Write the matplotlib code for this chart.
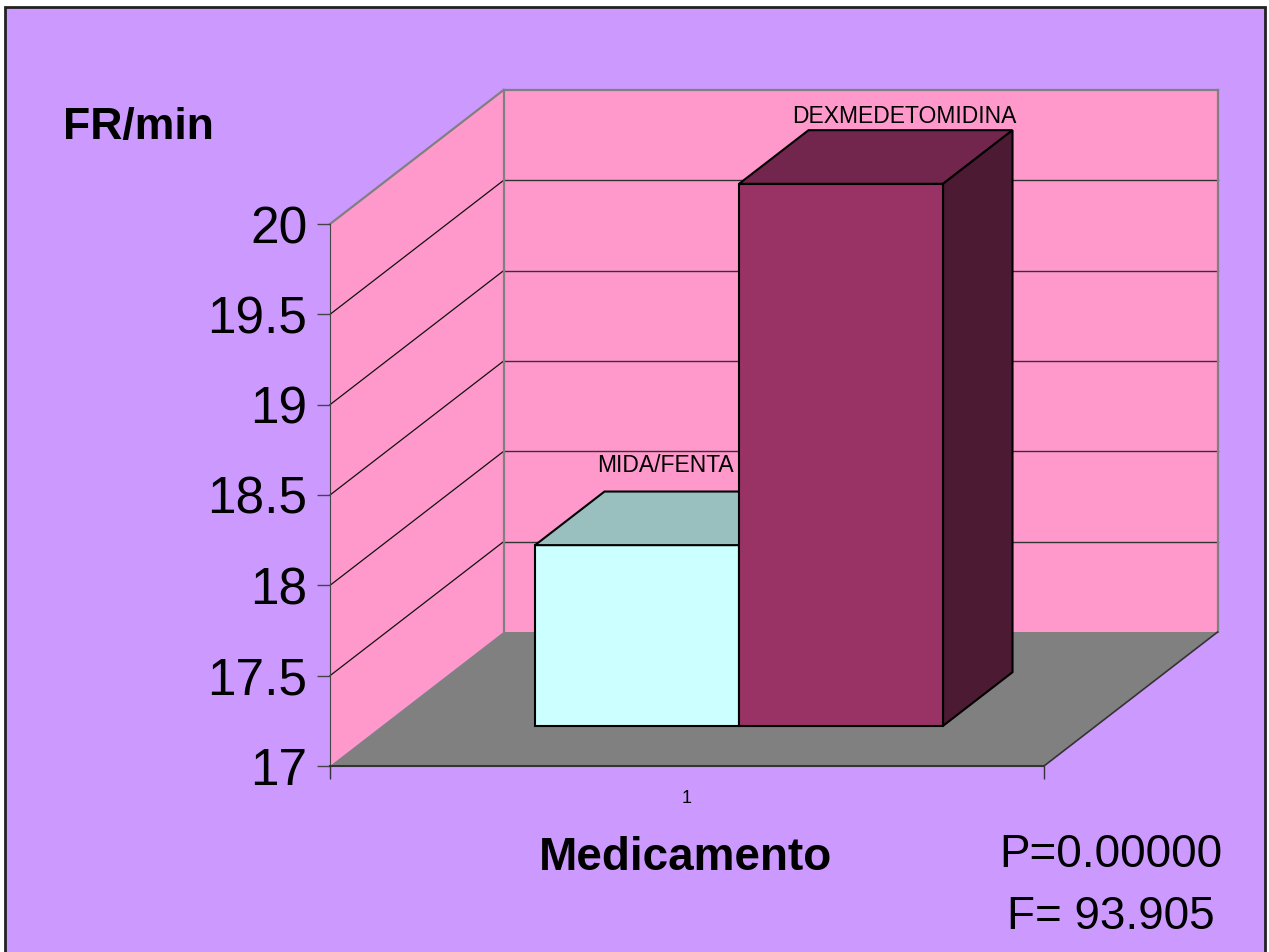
import numpy as np
import matplotlib
matplotlib.use('Agg')
import matplotlib.pyplot as plt
from matplotlib.patches import Polygon, Rectangle
from matplotlib.transforms import IdentityTransform

plt.rcParams['font.family'] = ['Liberation Sans', 'DejaVu Sans']

## data
groups   = ['MIDA/FENTA', 'DEXMEDETOMIDINA']
fr_mean  = [18.0, 20.0]
yticks   = [17, 17.5, 18, 18.5, 19, 19.5, 20]
cat_lab  = ['1']
stats_p  = 'P=0.00000'
stats_f  = 'F= 93.905'

## colours (front, top, side)
bar_cols = [('#CCFFFF', '#99BFBF', '#669999'),
            ('#993366', '#73264D', '#4D1A33')]
bg_col    = '#CC99FF'
wall_col  = '#FF99CC'
floor_col = '#808080'

W, H = 1269, 952
fig = plt.figure(figsize=(W/100, H/100), dpi=100, facecolor='white')

# chart area background with border
fig.patches.append(Rectangle((5/W, -0.01), 1260/W, 1 - 7/H + 0.01,
                             transform=fig.transFigure, facecolor=bg_col,
                             edgecolor='#222222', linewidth=2, zorder=0))

# front plane of the 3d box
ax = fig.add_axes([330/W, 1 - 766/H, 714/W, (766 - 224)/H])
ax.set_zorder(20)
ax.set_xlim(0, 1)
ax.set_ylim(17, 20)
ax.patch.set_visible(False)
for s in ['top', 'right']:
    ax.spines[s].set_visible(False)
ax.spines['left'].set_color('#444444')
ax.spines['bottom'].set_color('#333333')
ax.spines['bottom'].set_linewidth(1.5)

DX, DY = 173.6, 134.0   # depth offset in pixels


def proj(x, v, d):
    px, py = ax.transData.transform((x, v))
    return (px + DX*d, py + DY*d)


def face(pts, fc, ec='none', lw=0, z=1):
    p = Polygon([proj(*q) for q in pts], closed=True, facecolor=fc,
                edgecolor=ec, linewidth=lw, transform=IdentityTransform(),
                zorder=z, clip_on=False, joinstyle='miter')
    fig.patches.append(p)


def line(a, b, col, lw, z=2):
    pa, pb = proj(*a), proj(*b)
    fig.lines.append(plt.Line2D([pa[0], pb[0]], [pa[1], pb[1]], color=col,
                                linewidth=lw, transform=IdentityTransform(),
                                zorder=z))


ymin, ymax = yticks[0], yticks[-1]
# walls and floor
face([(0, ymin, 0), (0, ymax, 0), (0, ymax, 1), (0, ymin, 1)], wall_col)
face([(0, ymin, 1), (0, ymax, 1), (1, ymax, 1), (1, ymin, 1)], wall_col)
face([(0, ymin, 0), (0, ymin, 1), (1, ymin, 1), (1, ymin, 0)], floor_col)

for v in yticks[1:-1]:
    line((0, v, 0), (0, v, 1), '#111111', 0.9)
    line((0, v, 1), (1, v, 1), '#333333', 1.0)
line((0, ymax, 0), (0, ymax, 1), '#808080', 1.6)
line((0, ymax, 1), (1, ymax, 1), '#808080', 1.6)
line((0, ymax, 1), (0, ymin, 1), '#808080', 1.6)
line((1, ymax, 1), (1, ymin, 1), '#808080', 1.6)
line((1, ymin, 0), (1, ymin, 1), '#333333', 1.2)

# bars, gap width 150%
n = len(fr_mean)
bw = 1.0 / (n + 1.5)
d0, d1 = 0.3, 0.7
label_off = [(-6, 46), (29, 34)]
for i, val in enumerate(fr_mean):
    x0 = 0.75*bw + i*bw
    x1 = x0 + bw
    fc, tc, sc = bar_cols[i]
    z = 3 + i
    face([(x0, ymin, d0), (x0, val, d0), (x1, val, d0), (x1, ymin, d0)], fc, 'black', 1.5, z)
    face([(x0, val, d0), (x0, val, d1), (x1, val, d1), (x1, val, d0)], tc, 'black', 1.5, z)
    face([(x1, ymin, d0), (x1, val, d0), (x1, val, d1), (x1, ymin, d1)], sc, 'black', 1.5, z)
    ax.annotate(groups[i], xy=proj((x0 + x1)/2, val, 0.5), xycoords='figure pixels',
                xytext=label_off[i], textcoords='offset pixels', ha='center',
                va='baseline', fontsize=16.5, annotation_clip=False)

# axes ticks
ax.set_yticks(yticks)
ax.set_yticklabels(['%g' % t for t in yticks])
ax.tick_params(axis='y', direction='out', length=9.4, width=1, color='#444444',
               labelsize=37, pad=7)
ax.set_xticks([0.5])
ax.set_xticklabels(cat_lab)
ax.set_xticks([0, 1], minor=True)
ax.tick_params(axis='x', which='major', length=0, labelsize=13, pad=17)
ax.tick_params(axis='x', which='minor', direction='out', length=9.4, width=1,
               color='#333333')

fig.text(63/W, 1 - 139/H, 'FR/min', fontsize=32, fontweight='bold',
         ha='left', va='baseline')
fig.text(686/W, 1 - 870/H, 'Medicamento', fontsize=33, fontweight='bold',
         ha='center', va='baseline')
fig.text(1111/W, 1 - 867/H, stats_p, fontsize=33, ha='center', va='baseline')
fig.text(1111/W, 1 - 929/H, stats_f, fontsize=33, ha='center', va='baseline')

fig.savefig('out.png', dpi=100)
